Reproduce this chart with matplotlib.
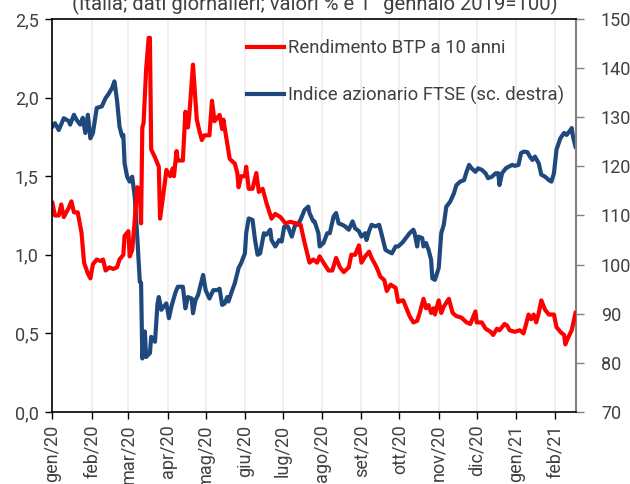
import matplotlib
matplotlib.use("Agg")
import matplotlib.pyplot as plt
import pandas as pd
import numpy as np

plt.rcParams['font.family'] = ['Roboto', 'DejaVu Sans']

# --- data (days since 1 Jan 2020) ---
btp_giorni = [0, 2, 5, 7, 9, 13, 15, 17, 20, 23, 25, 28, 30, 32, 35, 38, 40, 42, 45, 48, 51, 53, 56, 57,
              60, 61, 63, 65, 67, 69, 70, 71, 72, 74, 76, 77, 78, 81, 84, 85, 88, 90, 93, 95, 96, 98, 99,
              103, 105, 107, 108, 111, 114, 116, 118, 120, 124, 126, 128, 130, 132, 134, 135, 138, 140,
              144, 146, 147, 149, 152, 153, 155, 158, 161, 163, 166, 169, 173, 176, 180, 184, 188, 192,
              196, 199, 203, 206, 209, 211, 214, 218, 221, 224, 227, 230, 234, 236, 239, 242, 244, 247,
              250, 252, 256, 259, 262, 264, 267, 271, 273, 276, 277, 280, 282, 285, 288, 290, 293, 295,
              297, 299, 301, 302, 305, 307, 309, 313, 316, 319, 323, 327, 330, 334, 335, 339, 342, 346,
              348, 351, 353, 357, 359, 361, 365, 369, 372, 374, 376, 378, 380, 382, 384, 386, 389, 392,
              396, 398, 401, 404, 405, 407, 410, 413]
btp_valori = [1.33, 1.25, 1.25, 1.32, 1.24, 1.30, 1.34, 1.27, 1.27, 1.14, 0.95, 0.88, 0.85, 0.94, 0.97,
              0.96, 0.97, 0.90, 0.92, 0.91, 0.92, 0.97, 1.00, 1.12, 1.15, 0.99, 1.03, 1.22, 1.43, 1.41,
              1.20, 1.81, 1.84, 2.18, 2.38, 2.38, 1.67, 1.62, 1.56, 1.23, 1.41, 1.54, 1.50, 1.55, 1.50,
              1.66, 1.60, 1.60, 1.91, 1.81, 1.88, 2.21, 1.86, 1.79, 1.73, 1.76, 1.76, 1.98, 1.85, 1.87,
              1.89, 1.80, 1.86, 1.71, 1.61, 1.58, 1.52, 1.43, 1.50, 1.50, 1.56, 1.42, 1.42, 1.52, 1.40,
              1.42, 1.33, 1.23, 1.26, 1.24, 1.20, 1.21, 1.20, 1.19, 1.08, 0.95, 0.97, 0.95, 0.99, 0.95,
              0.90, 0.90, 0.98, 0.92, 0.89, 0.92, 1.00, 1.00, 1.06, 0.95, 0.99, 1.02, 0.98, 0.92, 0.86,
              0.84, 0.77, 0.81, 0.79, 0.70, 0.71, 0.71, 0.65, 0.61, 0.57, 0.58, 0.63, 0.72, 0.66, 0.68,
              0.63, 0.66, 0.62, 0.71, 0.63, 0.67, 0.72, 0.63, 0.61, 0.60, 0.57, 0.56, 0.64, 0.57, 0.57,
              0.53, 0.51, 0.49, 0.53, 0.52, 0.56, 0.55, 0.52, 0.51, 0.52, 0.50, 0.56, 0.62, 0.59, 0.62,
              0.57, 0.63, 0.71, 0.65, 0.62, 0.62, 0.54, 0.51, 0.49, 0.43, 0.47, 0.52, 0.63]

ftse_giorni = [0, 2, 5, 9, 13, 14, 17, 19, 22, 24, 26, 28, 30, 32, 35, 39, 42, 44, 47, 49, 51, 53, 55,
               56, 57, 59, 61, 63, 65, 67, 69, 70, 71, 73, 74, 77, 78, 81, 83, 84, 86, 88, 90, 92, 94,
               97, 99, 103, 105, 107, 110, 111, 113, 115, 119, 121, 124, 127, 130, 132, 134, 136, 138,
               139, 142, 144, 147, 149, 152, 153, 155, 158, 160, 162, 164, 167, 169, 172, 173, 176, 179,
               181, 183, 186, 189, 192, 194, 197, 199, 202, 203, 206, 207, 210, 211, 214, 217, 219, 222,
               224, 226, 229, 231, 234, 237, 239, 242, 244, 247, 248, 250, 252, 255, 258, 260, 263, 265,
               268, 271, 273, 276, 277, 280, 282, 285, 286, 288, 289, 292, 293, 295, 297, 299, 300, 302,
               305, 307, 309, 311, 314, 317, 319, 322, 325, 327, 329, 331, 334, 336, 339, 342, 344, 347,
               350, 352, 353, 355, 358, 360, 363, 365, 368, 370, 372, 375, 377, 379, 381, 384, 386, 389,
               392, 394, 396, 398, 401, 404, 406, 409, 410, 411, 413]
ftse_valori = [128.1, 128.8, 127.4, 129.8, 129.2, 128.5, 130.5, 129.5, 128.5, 129.9, 126.8, 130.5, 125.7,
               126.8, 131.9, 132.2, 133.9, 134.6, 135.9, 137.3, 133.5, 128.1, 126.1, 126.4, 120.6, 117.9,
               116.9, 117.9, 113.8, 105.7, 96.5, 96.3, 80.9, 86.4, 81.2, 82.0, 85.3, 84.3, 92.1, 93.4,
               90.8, 91.5, 92.1, 89.1, 91.5, 94.2, 95.5, 95.5, 91.1, 93.4, 93.1, 90.1, 92.8, 93.8, 97.9,
               94.8, 93.1, 94.8, 94.8, 95.1, 91.8, 92.1, 93.4, 92.5, 94.8, 96.2, 99.3, 100.3, 102.3,
               106.4, 109.4, 109.1, 105.0, 102.0, 102.3, 106.4, 106.1, 107.1, 105.0, 103.7, 105.0, 104.7,
               107.7, 107.7, 105.7, 108.4, 108.1, 109.8, 111.1, 111.8, 110.5, 108.8, 108.8, 106.4, 103.7,
               104.4, 106.4, 106.4, 109.8, 110.5, 108.4, 108.1, 107.8, 107.1, 108.8, 107.4, 106.8, 105.7,
               106.4, 105.0, 106.8, 108.1, 107.8, 108.1, 106.1, 103.0, 102.7, 102.3, 103.7, 103.7, 104.4,
               104.7, 105.7, 106.4, 107.1, 106.4, 103.7, 105.7, 105.4, 103.7, 104.4, 103.0, 101.0, 97.2,
               96.9, 99.3, 106.4, 108.1, 111.8, 112.8, 114.5, 116.2, 116.9, 117.2, 118.9, 120.3, 119.6,
               118.9, 119.6, 119.3, 118.6, 117.6, 117.9, 118.6, 118.6, 116.2, 118.6, 119.6, 119.9, 120.3,
               120.1, 120.3, 122.7, 123.0, 122.9, 122.0, 121.3, 122.0, 120.6, 118.3, 117.9, 117.2, 116.9,
               118.6, 123.4, 125.7, 126.8, 126.4, 127.4, 127.8, 126.1, 124.0]

mesi = ['gen/20', 'feb/20', 'mar/20', 'apr/20', 'mag/20', 'giu/20', 'lug/20', 'ago/20',
        'set/20', 'ott/20', 'nov/20', 'dic/20', 'gen/21', 'feb/21']

serie_labels = ['Rendimento BTP a 10 anni', 'Indice azionario FTSE (sc. destra)']
titolo = '(Italia; dati giornalieri; valori % e 1° gennaio 2019=100)'

start = pd.Timestamp('2020-01-01')
btp_date = start + pd.to_timedelta(btp_giorni, unit='D')
ftse_date = start + pd.to_timedelta(ftse_giorni, unit='D')
tick_date = pd.date_range('2020-01-01', periods=len(mesi), freq='MS')

RED = '#FF0000'
BLUE = '#1F497D'
TXT = '#404040'
FS = 13
FS_LEG = 13.3

fig = plt.figure(figsize=(6.30, 4.84), dpi=100)
ax = fig.add_axes([52.4/630, 1-412/484, (576-52.4)/630, (412-19)/484])
ax2 = ax.twinx()
ax.set_zorder(ax2.get_zorder() + 1)
ax.patch.set_visible(False)

l2, = ax2.plot(ftse_date, ftse_valori, color=BLUE, lw=3, solid_joinstyle='round', label=serie_labels[1])
l1, = ax.plot(btp_date, btp_valori, color=RED, lw=3, solid_joinstyle='round', label=serie_labels[0])

xmin = start
xmax = start + pd.Timedelta(days=413.4)
ax.set_xlim(xmin, xmax)
ax.set_ylim(0, 2.5)
ax2.set_ylim(70, 150)
ax.set_yticks(np.arange(0, 2.51, 0.5))
ax.set_yticklabels([f'{v:.1f}'.replace('.', ',') for v in np.arange(0, 2.51, 0.5)])
ax2.set_yticks(np.arange(70, 151, 10))

ax.set_xticks(tick_date)
ax.set_xticklabels(mesi, rotation=90)
for d in tick_date[1:]:
    ax2.axvline(d, color='#ececec', lw=1.2, zorder=0)

for a in (ax, ax2):
    a.tick_params(labelsize=FS, labelcolor=TXT, length=5, width=1)
ax.tick_params(axis='y', colors='black', labelcolor=TXT, pad=5)
ax.tick_params(axis='x', colors='black', labelcolor=TXT, pad=4)
ax2.tick_params(axis='y', colors='#808080', labelcolor=TXT, length=6, pad=12)

ax.spines['left'].set_color('black')
ax.spines['bottom'].set_color('black')
ax.spines['top'].set_color('black')
ax.spines['right'].set_visible(False)
ax2.spines['right'].set_color('#808080')
ax2.spines['right'].set_linewidth(1.5)
for s in ['left', 'top', 'bottom']:
    ax2.spines[s].set_visible(False)
for s in ['left', 'top', 'bottom']:
    ax.spines[s].set_linewidth(1.2)

leg = ax.legend(handles=[l1, l2], loc='upper left', bbox_to_anchor=(247/630, 1-39/484),
                bbox_transform=fig.transFigure, frameon=False, fontsize=FS_LEG,
                handlelength=2.0, handletextpad=0.2, labelspacing=1.55, borderaxespad=0, borderpad=0)
for t in leg.get_texts():
    t.set_color(TXT)

fig.text(0.5, 1-10/484, titolo, ha='center', va='baseline', fontsize=14.6, color=TXT)

fig.savefig('out.png', dpi=100)
